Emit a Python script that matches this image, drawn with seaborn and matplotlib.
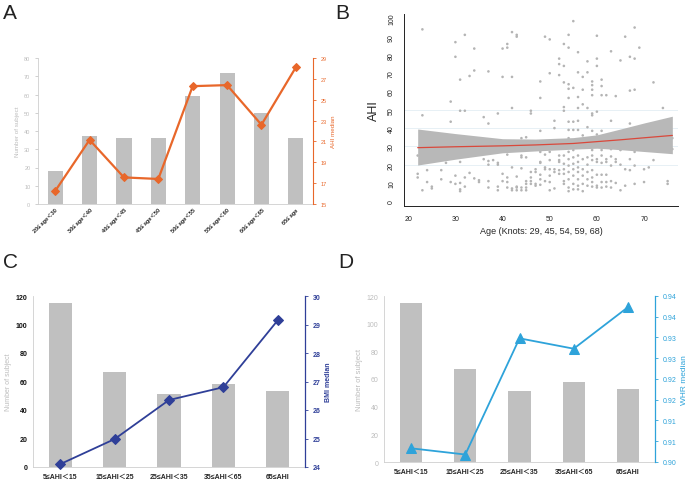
import numpy as np
import pandas as pd
import matplotlib
matplotlib.use("Agg")
import matplotlib.pyplot as plt
import seaborn as sns

sns.set_style("white")
plt.rcParams['font.family'] = ['Liberation Sans', 'Noto Sans CJK SC', 'DejaVu Sans']

# ---- data ----
# A: age groups
age_groups = ['20≤ age＜30', '30≤ age＜40', '40≤ age＜45', '45≤ age＜50',
              '50≤ age＜55', '55≤ age＜60', '60≤ age＜65', '65≤ age']
age_counts = [18, 37, 36, 36, 59, 72, 50, 36]
age_ahi_median = [16.25, 21.15, 17.55, 17.4, 26.3, 26.4, 22.6, 28.1]

# B: age vs AHI scatter
scatter_age = [
    22, 22, 22, 23, 23, 23, 24, 24, 25, 25, 27, 27, 28, 29, 29, 29,
    30, 30, 30, 30, 31, 31, 31, 31, 31, 31, 32, 32, 32, 32, 33, 33,
    34, 34, 34, 35, 35, 36, 36, 37, 37, 37, 37, 37, 37, 38,
    39, 39, 39, 39, 39, 40, 40, 40, 40, 41, 41, 41, 41, 41, 41,
    42, 42, 42, 42, 42, 42, 43, 43, 43, 43, 43, 43,
    44, 44, 44, 44, 44, 44, 45, 45, 45, 45, 45, 45,
    46, 46, 46, 46, 46, 46, 47, 47, 47, 47, 47,
    48, 48, 48, 48, 48, 48, 48, 48, 48, 49, 49, 49, 49, 49,
    50, 50, 50, 50, 50, 50, 50, 50, 51, 51, 51, 51, 51, 51,
    52, 52, 52, 52, 52, 52, 52, 52,
    53, 53, 53, 53, 53, 53, 53, 53, 53, 53, 53, 53,
    54, 54, 54, 54, 54, 54, 54, 54, 54, 54, 54, 54, 54, 54, 54,
    55, 55, 55, 55, 55, 55, 55, 55, 55, 55, 55, 55,
    56, 56, 56, 56, 56, 56, 56, 56, 56, 56, 56, 56, 56,
    57, 57, 57, 57, 57, 57, 57, 57, 57, 57,
    58, 58, 58, 58, 58, 58, 58, 58, 58,
    59, 59, 59, 59, 59, 59, 59, 59, 59, 59, 59, 59, 59, 59,
    60, 60, 60, 60, 60, 60, 60, 60, 60, 60,
    61, 61, 61, 61, 61, 61, 61, 61, 61, 61,
    62, 62, 62, 62, 62, 62, 63, 63, 63, 63, 63, 63, 63,
    64, 64, 64, 64, 65, 65, 65, 65, 65, 66, 66, 66,
    67, 67, 67, 67, 67, 68, 68, 68, 68, 68, 68, 69,
    70, 70, 71, 72, 72, 74, 75, 75, 76, 76,
]
scatter_ahi = [
    15, 13, 25, 94, 6, 47, 10.5, 17, 8, 7, 17, 12, 21, 54.5, 43.5, 10.5,
    87, 79, 14, 9.5, 66.5, 49.5, 21.5, 10, 6.5, 5.5, 91, 49.5, 13, 8, 68.5, 15.5,
    83.5, 71.5, 12.5, 11.5, 10.5, 46, 23, 71, 42.5, 22, 20, 11, 7.5, 22.5,
    48, 21, 20, 8, 6, 83.5, 68, 15, 11, 86, 84, 25.5, 13, 10.5, 7.5,
    92.5, 68, 51, 6, 7, 18.5, 91, 90, 13.5, 7.5, 6, 8,
    34.5, 25, 24, 7.5, 6, 18, 35, 24, 11, 9.5, 7.5, 6,
    49.5, 48, 16, 13, 11, 9.5, 31, 17.5, 16, 9.5, 8.5,
    65.5, 56.5, 38.5, 27, 21.5, 21, 14.5, 12, 9, 90, 25.5, 18.5, 17.5, 11,
    88.5, 70, 27, 22.5, 17.5, 14, 10.5, 6, 44, 40, 31.5, 17.5, 16, 7,
    78, 75, 69, 25, 22.5, 21.5, 17, 15,
    86, 74, 65, 51.5, 49.5, 30.5, 25, 20.5, 17.5, 15, 11, 9.5,
    91, 84, 64, 61.5, 56.5, 43.5, 39, 34.5, 27, 23, 19.5, 16, 12, 7.5, 5.5,
    98.5, 62, 43.5, 39, 32.5, 28, 24, 20.5, 17.5, 14, 9.5, 6.5,
    81.5, 70.5, 57, 51, 44, 39, 25, 21.5, 18.5, 16, 12, 8.5, 6.5,
    68, 61, 53, 36, 30.5, 23, 17.5, 14, 9.5, 5.5,
    76.5, 70.5, 51, 40.5, 24, 20, 16, 12, 8.5,
    65.5, 63.5, 61, 58, 48, 47, 38.5, 28, 25, 22.5, 17, 13, 10.5, 8,
    90.5, 78, 74, 49, 36.5, 23, 21.5, 14.5, 8.5, 7.5,
    66.5, 63, 58, 38.5, 28, 25, 21, 14.5, 10.5, 7.5,
    58, 23, 21.5, 14.5, 10.5, 8, 82, 44, 28.5, 24.5, 19.5, 11, 7.5,
    57.5, 23, 21.5, 10, 77, 28.5, 28, 20, 6, 90, 17.5, 8.5,
    79, 60.5, 42.5, 23, 17, 95, 78, 61, 27, 19.5, 9.5, 84,
    17.5, 10.5, 18.5, 65, 22.5, 51, 11, 9.5, 34.5, 28.5,
]
# spline fit and its confidence band
fit_age = [22, 30, 40, 47, 55, 60, 65, 70, 76]
fit_ahi = [29.3, 29.8, 30.3, 30.8, 31.6, 32.6, 33.6, 34.7, 36.0]
fit_low = [19.8, 23.0, 26.5, 27.5, 28.5, 29.0, 28.2, 27.2, 26.0]
fit_high = [39.5, 37.0, 34.2, 34.0, 34.8, 36.3, 39.5, 42.8, 46.5]

# C, D: AHI groups
ahi_groups = ['5≤AHI＜15', '15≤AHI＜25', '25≤AHI＜35', '35≤AHI＜65', '65≤AHI']
ahi_counts = [115, 67, 51, 58, 53]
bmi_median = [24.1, 24.98, 26.35, 26.8, 29.15]
whr_median = [0.9033, 0.9018, 0.9298, 0.9273, 0.9373]
whr_ticks = [0.900, 0.905, 0.910, 0.915, 0.920, 0.925, 0.930, 0.935, 0.940]
whr_ticklabels = ['0.90', '0.91', '0.91', '0.92', '0.92', '0.93', '0.93', '0.94', '0.94']

bar_color = '#c0c0c0'
orange = '#e8672a'
navy = '#2f3f98'
sky = '#2ea3da'
light = '#bdbdbd'

fig = plt.figure(figsize=(6.89, 4.85), dpi=100)


def bar_axis(ax, cats, counts, width):
    sns.barplot(x=cats, y=counts, color=bar_color, width=width, ax=ax,
                saturation=1, edgecolor='none')
    ax.set_xlim(-0.5, len(cats) - 0.5)
    for s in ['top', 'right']:
        ax.spines[s].set_visible(False)
    for s in ['left', 'bottom']:
        ax.spines[s].set_color('#cfcfcf')
        ax.spines[s].set_linewidth(0.6)


# ---------- A ----------
axA = fig.add_axes([38 / 689, 1 - 205 / 485, 275 / 689, 146 / 485])
bar_axis(axA, age_groups, age_counts, 0.44)
axA.set_ylim(0, 80)
axA.set_yticks(range(0, 81, 10))
axA.tick_params(axis='y', labelsize=4, colors=light, length=2, width=0.5)
axA.tick_params(axis='x', labelsize=4, length=0, pad=2)
plt.setp(axA.get_xticklabels(), rotation=45, ha='right', rotation_mode='anchor', fontweight='bold')
axA.set_ylabel('Number of subject', fontsize=4.5, color=light, labelpad=3)
axA2 = axA.twinx()
sns.lineplot(x=np.arange(len(age_groups)), y=age_ahi_median, ax=axA2, color=orange,
             marker='D', markersize=4, markeredgecolor=orange, linewidth=1.6, clip_on=False)
axA2.set_ylim(15, 29)
axA2.set_yticks(range(15, 30, 2))
axA2.set_xlim(-0.5, len(age_groups) - 0.5)
axA2.tick_params(axis='y', labelsize=4, colors=orange, length=2, width=0.6)
axA2.set_ylabel('AHI median', fontsize=4.5, color=orange, labelpad=3)
for s in ['top', 'left', 'bottom']:
    axA2.spines[s].set_visible(False)
axA2.spines['right'].set_color(orange)
axA2.spines['right'].set_linewidth(0.8)

# ---------- B ----------
axB = fig.add_axes([404 / 689, 1 - 207 / 485, 274 / 689, 192 / 485])
for g in [20, 30, 40, 50]:
    axB.axhline(g, color='#e3eef4', linewidth=0.6, zorder=0)
sns.scatterplot(x=scatter_age, y=scatter_ahi, ax=axB, color='#b4b4b4', s=3.5,
                edgecolor='none', zorder=2)
axB.fill_between(fit_age, fit_low, fit_high, color='#b8b8b8', linewidth=0, zorder=3)
sns.lineplot(x=fit_age, y=fit_ahi, ax=axB, color='#d9483b', linewidth=0.9, zorder=4)
axB.set_xlim(19.1, 77.2)
axB.set_ylim(-2.6, 102.4)
axB.set_xticks([20, 30, 40, 50, 60, 70])
axB.set_yticks(range(0, 101, 10))
axB.tick_params(axis='both', labelsize=5, length=3, width=0.6, colors='#222222')
plt.setp(axB.get_yticklabels(), rotation=90, va='center')
axB.set_xlabel('Age (Knots: 29, 45, 54, 59, 68)', fontsize=6.5, labelpad=3)
axB.set_ylabel('AHI', fontsize=9, labelpad=6)
for s in ['top', 'right']:
    axB.spines[s].set_visible(False)
for s in ['left', 'bottom']:
    axB.spines[s].set_color('#222222')
    axB.spines[s].set_linewidth(0.7)

# ---------- C ----------
axC = fig.add_axes([33 / 689, 1 - 468 / 485, 272 / 689, 171 / 485])
bar_axis(axC, ahi_groups, ahi_counts, 0.43)
axC.set_ylim(0, 120)
axC.set_yticks(range(0, 121, 20))
axC.tick_params(axis='y', labelsize=5, colors='#111111', length=0, pad=4)
axC.tick_params(axis='x', labelsize=5, length=0, pad=4)
plt.setp(axC.get_yticklabels(), fontweight='bold')
plt.setp(axC.get_xticklabels(), fontweight='bold')
axC.set_ylabel('Number of subject', fontsize=5, color=light, labelpad=3)
axC2 = axC.twinx()
sns.lineplot(x=np.arange(len(ahi_groups)), y=bmi_median, ax=axC2, color=navy,
             marker='D', markersize=5, markeredgecolor=navy, linewidth=1.3, clip_on=False)
axC2.set_ylim(24, 30)
axC2.set_yticks(range(24, 31))
axC2.set_xlim(-0.5, len(ahi_groups) - 0.5)
axC2.tick_params(axis='y', labelsize=5, colors=navy, length=2, width=0.6)
plt.setp(axC2.get_yticklabels(), fontweight='bold')
axC2.set_ylabel('BMI median', fontsize=5, color=navy, fontweight='bold', labelpad=3)
for s in ['top', 'left', 'bottom']:
    axC2.spines[s].set_visible(False)
axC2.spines['right'].set_color(navy)
axC2.spines['right'].set_linewidth(0.9)

# ---------- D ----------
axD = fig.add_axes([384 / 689, 1 - 463 / 485, 271 / 689, 166 / 485])
bar_axis(axD, ahi_groups, ahi_counts, 0.41)
axD.set_ylim(0, 120)
axD.set_yticks(range(0, 121, 20))
axD.tick_params(axis='y', labelsize=5, colors=light, length=0, pad=4)
axD.tick_params(axis='x', labelsize=5, length=0, pad=4)
plt.setp(axD.get_xticklabels(), fontweight='bold')
axD.set_ylabel('Number of subject', fontsize=5.5, color=light, labelpad=3)
axD2 = axD.twinx()
sns.lineplot(x=np.arange(len(ahi_groups)), y=whr_median, ax=axD2, color=sky,
             marker='^', markersize=7, markeredgecolor=sky, linewidth=1.3, clip_on=False)
axD2.set_ylim(0.900, 0.940)
axD2.set_yticks(whr_ticks)
axD2.set_yticklabels(whr_ticklabels)
axD2.set_xlim(-0.5, len(ahi_groups) - 0.5)
axD2.tick_params(axis='y', labelsize=5, colors=sky, length=2, width=0.6)
axD2.set_ylabel('WHR median', fontsize=6, color=sky, labelpad=3)
for s in ['top', 'left', 'bottom']:
    axD2.spines[s].set_visible(False)
axD2.spines['right'].set_color(sky)
axD2.spines['right'].set_linewidth(0.9)

# panel letters
for letter, (px, py) in zip('ABCD', [(3, 19), (335, 19), (3, 268), (338, 268)]):
    fig.text(px / 689, 1 - py / 485, letter, fontsize=15, color='#222222')

fig.savefig('out.png', dpi=100)
